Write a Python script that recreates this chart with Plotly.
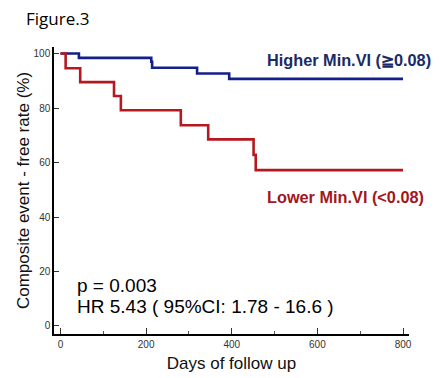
import plotly.graph_objects as go

# Kaplan-Meier step data (days, survival %)
higher_days = [0, 43, 212, 214, 319, 394, 800]
higher_surv = [100, 98.4, 97.0, 94.8, 92.7, 90.7, 90.7]
lower_days = [0, 12, 46, 125, 141, 281, 345, 451, 456, 800]
lower_surv = [100, 94.6, 89.5, 84.4, 79.2, 73.7, 68.5, 62.8, 57.2, 57.2]

x_ticks = [0, 200, 400, 600, 800]
y_ticks = [0, 20, 40, 60, 80, 100]

higher_label = "Higher Min.VI (≧0.08)"
lower_label = "Lower Min.VI (<0.08)"
stats_lines = ["p = 0.003", "HR 5.43 ( 95%CI: 1.78 - 16.6 )"]

BLUE = "#14208a"
RED = "#b5191f"

fig = go.Figure()
fig.add_trace(go.Scatter(x=higher_days, y=higher_surv, mode="lines",
                         line=dict(shape="hv", color=BLUE, width=2.6),
                         showlegend=False, hoverinfo="skip"))
fig.add_trace(go.Scatter(x=lower_days, y=lower_surv, mode="lines",
                         line=dict(shape="hv", color=RED, width=2.6),
                         showlegend=False, hoverinfo="skip"))

axis_font = dict(family="Liberation Sans, Arial, sans-serif", size=10, color="#333333")
title_font = dict(family="Liberation Sans, Arial, sans-serif", size=17, color="#111111")

fig.update_layout(
    width=440, height=378,
    margin=dict(l=54, r=31, t=47, b=44),
    paper_bgcolor="white", plot_bgcolor="white",
    xaxis=dict(range=[-15.2, 814], tickvals=x_ticks, ticks="inside", ticklen=6,
               tickwidth=1.2, tickcolor="#333", showline=True, linecolor="black",
               linewidth=1.5, showgrid=False, zeroline=False, tickfont=axis_font,
               automargin=False,
               minor=dict(tickvals=[100, 300, 500, 700], ticks="inside", ticklen=3,
                          tickcolor="#555", tickwidth=1),
               title=dict(text="Days of follow up", font=title_font, standoff=8)),
    yaxis=dict(range=[-2.94, 102.4], tickvals=y_ticks, ticks="inside", ticklen=5,
               tickwidth=1.2, tickcolor="#333", showline=True, linecolor="black",
               linewidth=1.5, showgrid=False, zeroline=False, tickfont=axis_font,
               automargin=False,
               title=dict(text="Composite event - free rate (%)", font=title_font,
                          standoff=0)),
    annotations=[
        dict(text="Figure.3", xref="paper", yref="paper", x=-0.085, y=1.0,
             xanchor="left", yanchor="bottom", yshift=15, showarrow=False,
             font=dict(family="Open Sans, sans-serif", size=17, color="black")),
        dict(text="<b>" + higher_label + "</b>", xref="x", yref="y", x=477, y=97.5,
             xanchor="left", yanchor="middle", showarrow=False,
             font=dict(family="Liberation Sans, Arial, sans-serif", size=16.3, color="#1b2a66")),
        dict(text="<b>" + lower_label + "</b>", xref="x", yref="y", x=477, y=47.5,
             xanchor="left", yanchor="middle", showarrow=False,
             font=dict(family="Liberation Sans, Arial, sans-serif", size=16.3, color="#a3161c")),
        dict(text=stats_lines[0], xref="x", yref="y", x=33, y=15.0,
             xanchor="left", yanchor="middle", showarrow=False,
             font=dict(family="Liberation Sans, Arial, sans-serif", size=19, color="black")),
        dict(text=stats_lines[1], xref="x", yref="y", x=33, y=7.1,
             xanchor="left", yanchor="middle", showarrow=False,
             font=dict(family="Liberation Sans, Arial, sans-serif", size=19, color="black")),
    ],
)

# remove the browser's default 8px body margin so the figure sits at (0, 0)
fig.write_html("out.html", config={"displayModeBar": False},
               post_script="document.body.style.margin='0';document.body.style.overflow='hidden';")
